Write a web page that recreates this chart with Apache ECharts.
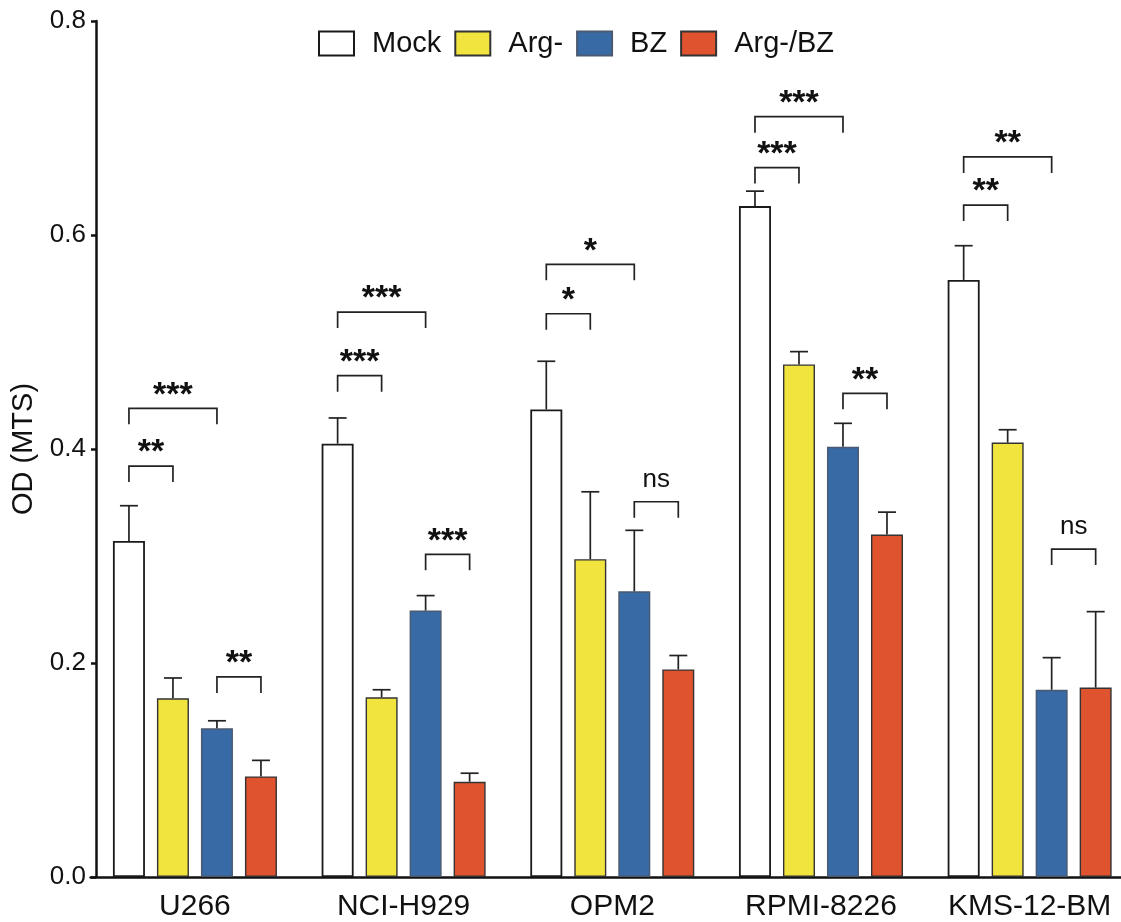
<!DOCTYPE html>
<html>
<head>
<meta charset="utf-8">
<script src="https://cdn.jsdelivr.net/npm/echarts@6/dist/echarts.min.js"></script>
<style>html,body{margin:0;padding:0;background:#fff;overflow:hidden;width:1121px;height:922px}#c{width:1134.4px;height:922px}</style>
</head>
<body>
<div id="c"></div>
<script>
// ---- data ----
const categories = ['U266', 'NCI-H929', 'OPM2', 'RPMI-8226', 'KMS-12-BM'];
const seriesNames = ['Mock', 'Arg-', 'BZ', 'Arg-/BZ'];
const mockValues = [0.314, 0.405, 0.437, 0.627, 0.558];
const mockErr    = [0.033, 0.024, 0.045, 0.014, 0.032];
const argValues  = [0.167, 0.168, 0.297, 0.479, 0.406];
const argErr     = [0.019, 0.007, 0.063, 0.012, 0.012];
const bzValues   = [0.139, 0.249, 0.267, 0.402, 0.175];
const bzErr      = [0.007, 0.014, 0.057, 0.022, 0.030];
const argBzValues = [0.094, 0.089, 0.194, 0.320, 0.177];
const argBzErr    = [0.015, 0.008, 0.013, 0.021, 0.071];
const yTicks = [0.0, 0.2, 0.4, 0.6, 0.8];
// significance brackets: [categoryIndex, fromSeries, toSeries, bracketValue]
const brackets = [
  [0, 0, 1, 0.384], [0, 0, 2, 0.438], [0, 2, 3, 0.187],
  [1, 0, 1, 0.4685], [1, 0, 2, 0.528], [1, 2, 3, 0.3016],
  [2, 0, 1, 0.5264], [2, 0, 2, 0.5726], [2, 2, 3, 0.3507],
  [3, 0, 1, 0.663], [3, 0, 2, 0.7106], [3, 2, 3, 0.452],
  [4, 0, 1, 0.628], [4, 0, 2, 0.673], [4, 2, 3, 0.3065]
];
const bracketLabels = [
  '**', '***', '**',
  '***', '***', '***',
  '*', '*', 'ns',
  '***', '***', '**',
  '**', '**', 'ns'
];

// ---- styles ----
const FONT = '"Liberation Sans", Arial, Helvetica, sans-serif';
const BAR_W = 32, BAR_GAP = 12;
const colors = ['#ffffff', '#f2e43e', '#386aa5', '#e0532f'];
const borders = ['#1a1a1a', '#333333', '#4a5a70', '#333333'];
const valueSets = [mockValues, argValues, bzValues, argBzValues];
const errSets = [mockErr, argErr, bzErr, argBzErr];

function barOffset(s) { return (s - 1.5) * (BAR_W + BAR_GAP); }

const errData = [];
valueSets.forEach((vals, s) => vals.forEach((v, i) => errData.push([i, s, v, errSets[s][i]])));

const chart = echarts.init(document.getElementById('c'), null, {renderer: 'canvas'});

const barSeries = seriesNames.map((name, s) => ({
  name: name,
  type: 'bar',
  data: valueSets[s],
  barWidth: BAR_W,
  barGap: (BAR_GAP / BAR_W * 100) + '%',
  itemStyle: {color: colors[s], borderColor: borders[s], borderWidth: s === 0 ? 1.8 : 1.4},
  emphasis: {disabled: true},
  z: 2
}));

const errSeries = {
  type: 'custom',
  name: 'err',
  data: errData,
  z: 3,
  silent: true,
  renderItem: function (params, api) {
    const cat = api.value(0), s = api.value(1), v = api.value(2), e = api.value(3);
    const b = api.coord([cat, v]);
    const t = api.coord([cat, v + e]);
    const x = b[0] + barOffset(s);
    const st = {stroke: '#222', lineWidth: 1.7};
    return {type: 'group', children: [
      {type: 'line', shape: {x1: x, y1: b[1], x2: x, y2: t[1]}, style: st},
      {type: 'line', shape: {x1: x - 9, y1: t[1], x2: x + 9, y2: t[1]}, style: st}
    ]};
  }
};

const bracketSeries = {
  type: 'custom',
  name: 'sig',
  data: brackets,
  z: 4,
  silent: true,
  renderItem: function (params, api) {
    const cat = api.value(0), f = api.value(1), to = api.value(2), y = api.value(3);
    const p = api.coord([cat, y]);
    const x1 = p[0] + barOffset(f), x2 = p[0] + barOffset(to);
    const st = {stroke: '#222', lineWidth: 1.7, fill: null};
    const lab = bracketLabels[params.dataIndex];
    const isNs = lab === 'ns';
    return {type: 'group', children: [
      {type: 'polyline', shape: {points: [[x1, p[1] + 16], [x1, p[1]], [x2, p[1]], [x2, p[1] + 16]]}, style: st},
      {type: 'text', style: {
        text: lab, x: (x1 + x2) / 2, y: isNs ? p[1] - 9 : p[1] + 4,
        align: 'center', verticalAlign: 'bottom',
        font: isNs ? ('26px ' + FONT) : ('bold 34px ' + FONT), fill: '#111'
      }}
    ]};
  }
};

chart.setOption({
  animation: false,
  backgroundColor: '#fff',
  legend: {
    data: seriesNames,
    left: 313, top: 24,
    itemWidth: 35, itemHeight: 24, itemGap: 13,
    icon: 'rect',
    textStyle: {fontFamily: FONT, fontSize: 29, color: '#111', padding: [0, 0, 0, 13]},
    selectedMode: false
  },
  grid: {left: 90.6, right: 0, top: 21, bottom: 45, containLabel: false},
  xAxis: {
    type: 'category',
    data: categories,
    axisLine: {lineStyle: {color: '#111', width: 2.5}},
    axisTick: {alignWithLabel: true, length: 5, lineStyle: {color: '#111', width: 2.5}},
    axisLabel: {fontFamily: FONT, fontSize: 30, color: '#111', margin: 15, interval: 0},
    splitLine: {show: false}
  },
  yAxis: {
    type: 'value',
    min: yTicks[0], max: yTicks[yTicks.length - 1], interval: 0.2,
    offset: -5.4,
    name: 'OD (MTS)',
    nameLocation: 'middle',
    nameGap: 58,
    nameTextStyle: {fontFamily: FONT, fontSize: 29, color: '#111'},
    axisLine: {show: true, lineStyle: {color: '#111', width: 2.5}},
    axisTick: {show: true, length: 5, lineStyle: {color: '#111', width: 2.5}},
    axisLabel: {fontFamily: FONT, fontSize: 26, color: '#111', margin: 10,
      formatter: v => v.toFixed(1)},
    splitLine: {show: false}
  },
  series: barSeries.concat([errSeries, bracketSeries])
});
</script>
</body>
</html>
